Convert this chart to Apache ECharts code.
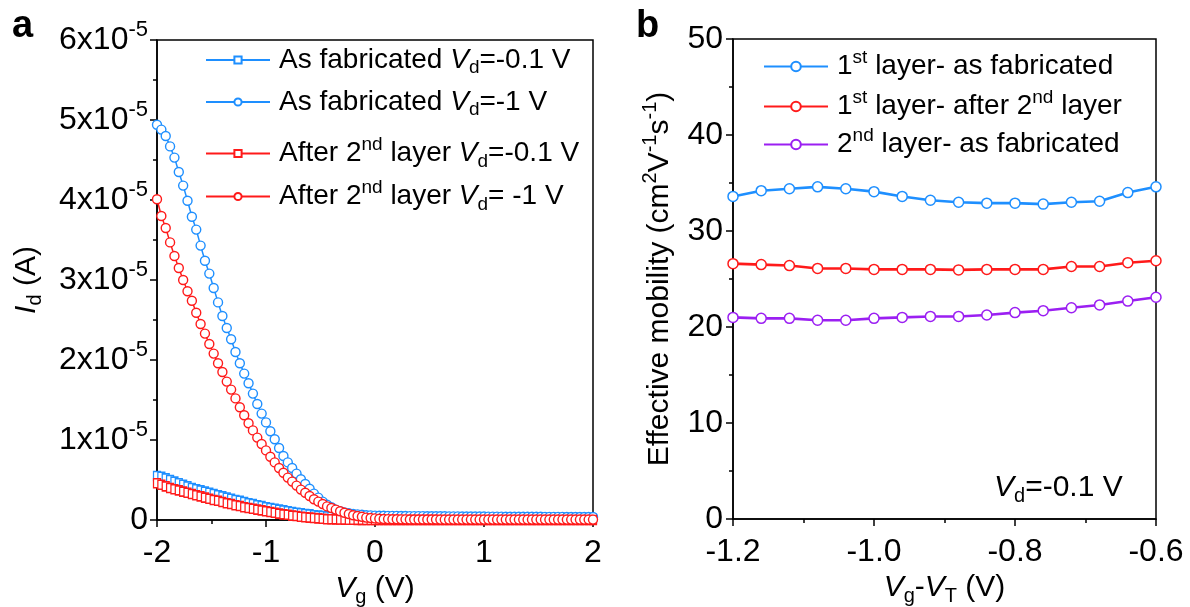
<!DOCTYPE html>
<html><head><meta charset="utf-8">
<script src="https://cdn.jsdelivr.net/npm/echarts@6/dist/echarts.min.js"></script>
<style>html,body{margin:0;padding:0;background:#fff}#c{width:1190px;height:607px}</style>
</head><body><div id="c"></div>
<script>
// ---------- DATA ----------
// Panel a: gate voltage (V)
const vg = [-2.00,-1.96,-1.92,-1.88,-1.84,-1.80,-1.76,-1.72,-1.68,-1.64,-1.60,-1.56,-1.52,-1.48,-1.44,-1.40,-1.36,-1.32,-1.28,-1.24,-1.20,-1.16,-1.12,-1.08,-1.04,-1.00,-0.96,-0.92,-0.88,-0.84,-0.80,-0.76,-0.72,-0.68,-0.64,-0.60,-0.56,-0.52,-0.48,-0.44,-0.40,-0.36,-0.32,-0.28,-0.24,-0.20,-0.16,-0.12,-0.08,-0.04,0.00,0.04,0.08,0.12,0.16,0.20,0.24,0.28,0.32,0.36,0.40,0.44,0.48,0.52,0.56,0.60,0.64,0.68,0.72,0.76,0.80,0.84,0.88,0.92,0.96,1.00,1.04,1.08,1.12,1.16,1.20,1.24,1.28,1.32,1.36,1.40,1.44,1.48,1.52,1.56,1.60,1.64,1.68,1.72,1.76,1.80,1.84,1.88,1.92,1.96,2.00];
// Drain current in units of 1e-5 A
const idAsFabVd01 = [0.55,0.54,0.52,0.50,0.48,0.46,0.44,0.42,0.40,0.385,0.37,0.355,0.34,0.325,0.31,0.295,0.28,0.265,0.25,0.24,0.225,0.21,0.20,0.185,0.175,0.16,0.15,0.14,0.13,0.12,0.11,0.10,0.09,0.085,0.075,0.07,0.06,0.055,0.05,0.045,0.04,0.035,0.03,0.03,0.025,0.025,0.022,0.02,0.02,0.02,0.02,0.02,0.02,0.02,0.02,0.02,0.02,0.02,0.019,0.019,0.019,0.019,0.019,0.018,0.018,0.018,0.018,0.018,0.018,0.017,0.017,0.017,0.017,0.017,0.017,0.016,0.016,0.016,0.016,0.016,0.016,0.016,0.015,0.015,0.015,0.015,0.015,0.015,0.015,0.015,0.015,0.015,0.015,0.015,0.015,0.015,0.015,0.015,0.015,0.015,0.015];
const idAsFabVd1 = [4.94,4.88,4.80,4.67,4.53,4.35,4.18,3.99,3.79,3.63,3.43,3.24,3.08,2.90,2.72,2.55,2.40,2.26,2.10,1.96,1.83,1.71,1.58,1.45,1.33,1.22,1.11,1.01,0.90,0.80,0.72,0.65,0.58,0.51,0.45,0.39,0.33,0.28,0.23,0.19,0.16,0.13,0.11,0.095,0.085,0.075,0.07,0.065,0.06,0.058,0.055,0.054,0.053,0.052,0.052,0.051,0.050,0.050,0.049,0.049,0.048,0.048,0.047,0.047,0.046,0.046,0.046,0.045,0.045,0.045,0.044,0.044,0.044,0.043,0.043,0.043,0.042,0.042,0.042,0.042,0.041,0.041,0.041,0.041,0.040,0.040,0.040,0.040,0.040,0.039,0.039,0.039,0.039,0.039,0.038,0.038,0.038,0.038,0.038,0.038,0.037];
const idAfterVd01 = [0.46,0.44,0.42,0.40,0.385,0.37,0.355,0.34,0.325,0.31,0.295,0.28,0.265,0.25,0.24,0.225,0.21,0.20,0.185,0.175,0.16,0.15,0.14,0.13,0.12,0.11,0.10,0.09,0.08,0.07,0.065,0.055,0.05,0.04,0.035,0.03,0.025,0.02,0.015,0.01,0.01,0.008,0.006,0.005,0.004,0.003,0.002,0.002,0.001,0.001,0,0,0,0,0,0,0,0,0,0,0,0,0,0,0,0,0,0,0,0,0,0,0,0,0,0,0,0,0,0,0,0,0,0,0,0,0,0,0,0,0,0,0,0,0,0,0,0,0,0,0];
const idAfterVd1 = [4.01,3.80,3.65,3.47,3.30,3.15,3.00,2.86,2.74,2.59,2.45,2.33,2.20,2.08,1.96,1.85,1.73,1.63,1.52,1.41,1.31,1.21,1.12,1.03,0.95,0.87,0.79,0.72,0.65,0.59,0.53,0.48,0.43,0.38,0.34,0.30,0.26,0.23,0.20,0.17,0.15,0.13,0.11,0.09,0.075,0.06,0.05,0.04,0.03,0.025,0.02,0.016,0.013,0.011,0.010,0.009,0.008,0.008,0.007,0.007,0.006,0.006,0.006,0.006,0.006,0.005,0.005,0.005,0.005,0.005,0.005,0.005,0.005,0.005,0.005,0.005,0.005,0.005,0.005,0.005,0.005,0.005,0.005,0.005,0.005,0.005,0.005,0.005,0.005,0.005,0.005,0.005,0.005,0.005,0.005,0.005,0.005,0.005,0.005,0.005,0.005];
// Panel b
const vgvt = [-1.20,-1.16,-1.12,-1.08,-1.04,-1.00,-0.96,-0.92,-0.88,-0.84,-0.80,-0.76,-0.72,-0.68,-0.64,-0.60];
const mob1AsFab = [33.6,34.2,34.4,34.6,34.4,34.1,33.6,33.2,33.0,32.9,32.9,32.8,33.0,33.1,34.0,34.6];
const mob1After = [26.6,26.5,26.4,26.1,26.1,26.0,26.0,26.0,25.95,26.0,26.0,26.0,26.3,26.3,26.7,26.9];
const mob2AsFab = [21.0,20.9,20.9,20.7,20.7,20.9,21.0,21.1,21.1,21.25,21.5,21.7,22.0,22.3,22.7,23.1];
// Tick labels
const yTicksA = [0,1,2,3,4,5,6];
const xTicksB = ['-1.2','-1.0','-0.8','-0.6'];
// Series names
const namesA = ['As fabricated Vd=-0.1 V','As fabricated Vd=-1 V','After 2nd layer Vd=-0.1 V','After 2nd layer Vd= -1 V'];
const namesB = ['1st layer- as fabricated','1st layer- after 2nd layer','2nd layer- as fabricated'];

// ---------- STYLE ----------
const FF = "'Liberation Sans', Arial, sans-serif";
const FS = 28;      // legend text
const FT = 32;      // tick labels
const FN = 30;      // axis names
const BLUE = '#1E8FFF', RED = '#FF1A1A', PURPLE = '#9B1FF2';
function mkRich(fs) {
  const s = Math.round(fs * 0.68);
  return {
    i: {fontStyle:'italic', fontSize:fs, fontFamily:FF, color:'#000'},
    sub: {fontSize:s, fontFamily:FF, color:'#000', padding:[Math.round(fs*0.57),0,0,0]},
    sup: {fontSize:s, fontFamily:FF, color:'#000', padding:[0,0,Math.round(fs*0.64),0]}
  };
}
const richL = mkRich(FS), richT = mkRich(FT), richN = mkRich(FN);
const legendText = {
  'As fabricated Vd=-0.1 V':'As fabricated {i|V}{sub|d}=-0.1 V',
  'As fabricated Vd=-1 V':'As fabricated {i|V}{sub|d}=-1 V',
  'After 2nd layer Vd=-0.1 V':'After 2{sup|nd} layer {i|V}{sub|d}=-0.1 V',
  'After 2nd layer Vd= -1 V':'After 2{sup|nd} layer {i|V}{sub|d}= -1 V',
  '1st layer- as fabricated':'1{sup|st} layer- as fabricated',
  '1st layer- after 2nd layer':'1{sup|st} layer- after 2{sup|nd} layer',
  '2nd layer- as fabricated':'2{sup|nd} layer- as fabricated'
};
const pair = (xs, ys) => xs.map((x, k) => [x, ys[k]]);

function axisCommon(extra) {
  return Object.assign({
    type:'value',
    axisLine:{show:true, onZero:false, lineStyle:{color:'#000', width:1.5}},
    axisTick:{show:true, inside:false, length:7, lineStyle:{color:'#000', width:1.5}},
    minorTick:{show:true, splitNumber:2, length:4, lineStyle:{color:'#000', width:1.5}},
    splitLine:{show:false},
    axisLabel:{color:'#000', fontSize:FT, fontFamily:FF, margin:17, rich:richT},
    nameTextStyle:{color:'#000', fontSize:FN, fontFamily:FF, rich:richN},
    nameLocation:'middle'
  }, extra);
}

function legendFor(name, left, top, ih) {
  return {
    data:[name], left:left, top:top, padding:0, itemWidth:64, itemHeight:ih,
    orient:'vertical', selectedMode:false,
    textStyle:{color:'#000', fontSize:FS, fontFamily:FF, rich:richL, padding:[0,0,0,4]},
    formatter: n => legendText[n]
  };
}

function seriesA(name, data, color, symbol, size) {
  return {
    name:name, type:'line', xAxisIndex:0, yAxisIndex:0, data:data,
    symbol:symbol, symbolSize:size, showAllSymbol:true, clip:false,
    lineStyle:{color:color, width:1.5},
    itemStyle:{color:'#fff', borderColor:color, borderWidth:1.4},
    emphasis:{disabled:true}
  };
}
function seriesB(name, data, color) {
  return {
    name:name, type:'line', xAxisIndex:1, yAxisIndex:1, data:data,
    symbol:'circle', symbolSize:10, showAllSymbol:true,
    lineStyle:{color:color, width:2.6},
    itemStyle:{color:'#fff', borderColor:color, borderWidth:1.5},
    emphasis:{disabled:true}
  };
}

const chart = echarts.init(document.getElementById('c'));
chart.setOption({
  animation:false,
  backgroundColor:'#fff',
  grid:[
    {left:157, top:40, width:436, height:480, containLabel:false, outerBoundsMode:'none', show:true, borderColor:'#000', borderWidth:1.5, backgroundColor:'transparent'},
    {left:733, top:39, width:423, height:480, containLabel:false, outerBoundsMode:'none', show:true, borderColor:'#000', borderWidth:1.5, backgroundColor:'transparent'}
  ],
  xAxis:[
    axisCommon({gridIndex:0, min:-2, max:2, interval:1,
      name:'{i|V}{sub|g} (V)', nameGap:46}),
    axisCommon({gridIndex:1, min:-1.2, max:-0.6, interval:0.2,
      axisLabel:{color:'#000', fontSize:FT, fontFamily:FF, margin:17,
        formatter: v => xTicksB[Math.round((v + 1.2) / 0.2)]},
      name:'{i|V}{sub|g}-{i|V}{sub|T} (V)', nameGap:48})
  ],
  yAxis:[
    axisCommon({gridIndex:0, min:0, max:6, interval:1,
      axisLabel:{color:'#000', fontSize:FT, fontFamily:FF, margin:9, rich:richT,
        formatter: v => (v === yTicksA[0] ? '0' : v + 'x10{sup|-5}')},
      name:'{i|I}{sub|d} (A)', nameGap:112, nameRotate:90}),
    axisCommon({gridIndex:1, min:0, max:50, interval:10,
      axisLabel:{color:'#000', fontSize:FT, fontFamily:FF, margin:10},
      name:'Effective mobility (cm{sup|2}V{sup|-1}s{sup|-1})', nameGap:54, nameRotate:90})
  ],
  legend:[
    legendFor(namesA[0], 205, 46, 9),
    legendFor(namesA[1], 205, 88, 9),
    legendFor(namesA[2], 205, 135, 9),
    legendFor(namesA[3], 205, 178, 9),
    legendFor(namesB[0], 763, 48, 12),
    legendFor(namesB[1], 763, 88, 12),
    legendFor(namesB[2], 763, 126, 12)
  ],
  series:[
    seriesA(namesA[0], pair(vg, idAsFabVd01), BLUE, 'rect', [7,9]),
    seriesA(namesA[1], pair(vg, idAsFabVd1), BLUE, 'circle', 9),
    seriesA(namesA[2], pair(vg, idAfterVd01), RED, 'rect', [7,9]),
    seriesA(namesA[3], pair(vg, idAfterVd1), RED, 'circle', 9),
    seriesB(namesB[0], pair(vgvt, mob1AsFab), BLUE),
    seriesB(namesB[1], pair(vgvt, mob1After), RED),
    seriesB(namesB[2], pair(vgvt, mob2AsFab), PURPLE)
  ],
  graphic:[
    {type:'text', left:12, top:8, style:{text:'a', fontSize:38, fontWeight:'bold', fontFamily:FF, fill:'#000'}},
    {type:'text', left:636, top:8, style:{text:'b', fontSize:38, fontWeight:'bold', fontFamily:FF, fill:'#000'}},
    {type:'text', left:994, top:473, style:{text:'{i|V}{sub|d}=-0.1 V', fontSize:FN, fontFamily:FF, fill:'#000', rich:richN}}
  ]
});
</script>
</body></html>
